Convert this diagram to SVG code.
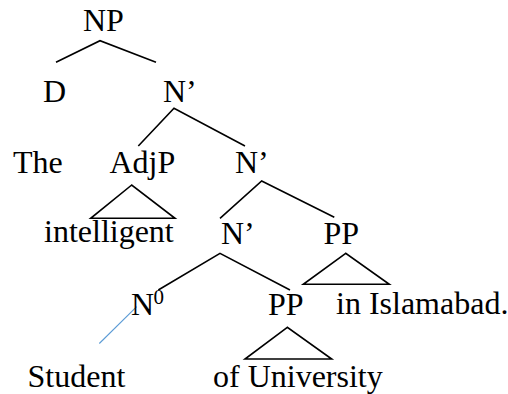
<svg xmlns="http://www.w3.org/2000/svg" width="508" height="394" viewBox="0 0 508 394">
<style>
text{font-family:'Liberation Serif',Tinos,'Times New Roman',Times,'DejaVu Serif',serif;fill:#000}
.t{font-size:32px}
.sup{font-size:21px}
.l{fill:none;stroke:#000;stroke-width:1.6;stroke-linejoin:miter}
.b{fill:none;stroke:#5b9bd5;stroke-width:1.1}
</style>
<rect width="508" height="394" fill="#fff"/>
<g id="connectors">
<polyline class="l" points="56,62.3 100,40.7 156,62.3"/>
<polyline class="l" points="138.3,146 174,108.3 245,146"/>
<polyline class="l" points="220,218.3 261.7,181 334.3,217.3"/>
<polygon class="l" points="131.7,185 90.7,218.3 175,218.3"/>
<polyline class="l" points="158.3,290 220,253.3 290,290"/>
<polygon class="l" points="345.7,253.3 303.3,284.3 389.3,284.3"/>
<polygon class="l" points="287.3,327.3 245,359 331.7,359"/>
<line class="b" x1="136.7" y1="306.7" x2="99.3" y2="343.5"/>
</g>
<g font-family="Liberation Serif, serif">
<g id="np"><text class="t" x="83" y="31">NP</text></g>
<g id="d"><text class="t" x="43" y="102">D</text></g>
<g id="nbar1"><text class="t" x="163" y="102">N’</text></g>
<g id="the"><text class="t" x="13" y="173">The</text></g>
<g id="adjp"><text class="t" x="109.5" y="173">AdjP</text></g>
<g id="nbar2"><text class="t" x="235" y="173">N’</text></g>
<g id="intelligent"><text class="t" x="44" y="242">intelligent</text></g>
<g id="nbar3"><text class="t" x="221" y="243.5">N’</text></g>
<g id="pp1"><text class="t" x="323.5" y="244">PP</text></g>
<g id="n0"><text class="t" x="131" y="315">N</text><text class="sup" x="153.5" y="304">0</text></g>
<g id="pp2"><text class="t" x="268" y="315">PP</text></g>
<g id="in-islamabad"><text class="t" x="336" y="314">in Islamabad.</text></g>
<g id="student"><text class="t" x="27.5" y="387">Student</text></g>
<g id="of-university"><text class="t" x="213" y="387">of University</text></g>
</g>
</svg>
